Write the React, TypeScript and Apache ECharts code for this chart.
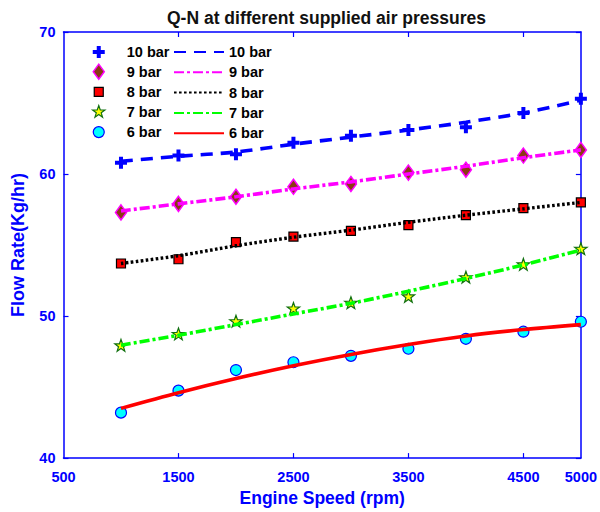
import React, { useEffect, useRef } from 'react';
import * as echarts from 'echarts';

const speeds = [1000, 1500, 2000, 2500, 3000, 3500, 4000, 4500, 5000];

const meas10 = [60.8, 61.3, 61.4, 62.2, 62.7, 63.1, 63.3, 64.3, 65.3];
const meas9 = [57.3, 57.9, 58.4, 59.1, 59.3, 60.1, 60.3, 61.3, 61.7];
const meas8 = [53.7, 54.0, 55.2, 55.6, 56.0, 56.4, 57.1, 57.6, 58.0];
const meas7 = [47.9, 48.7, 49.6, 50.5, 50.9, 51.35, 52.7, 53.6, 54.7];
const meas6 = [43.2, 44.75, 46.2, 46.75, 47.2, 47.7, 48.4, 48.9, 49.6];

const fit10 = [60.9, 61.25, 61.55, 62.1, 62.6, 63.1, 63.65, 64.3, 65.2];
const fit9 = [57.4, 57.9, 58.4, 58.95, 59.45, 60.0, 60.55, 61.15, 61.7];
const fit8 = [53.7, 54.25, 54.95, 55.55, 56.05, 56.6, 57.1, 57.55, 58.0];
const fit7 = [47.95, 48.65, 49.4, 50.15, 50.9, 51.75, 52.65, 53.6, 54.65];
const fit6 = [43.5, 44.6, 45.6, 46.5, 47.3, 48.0, 48.6, 49.05, 49.4];

const pressureLabels = ['10 bar', '9 bar', '8 bar', '7 bar', '6 bar'];
const xTickLabels = [500, 1500, 2500, 3500, 4500, 5000];
const xTickMarks = [1500, 2500, 3500, 4500];
const yTickValues = [40, 50, 60, 70];

const BLUE = '#0000FF';
const FONT = 'Liberation Sans, Arial, sans-serif';

// Symbols drawn in an 18x18 box (corner moves fix the box size)
const BOX = 'M0 0 M18 18 ';
const PLUS = 'path://' + BOX + 'M7 3 L11 3 L11 7 L15 7 L15 11 L11 11 L11 15 L7 15 L7 11 L3 11 L3 7 L7 7 Z';
const DIAMOND = 'path://' + BOX + 'M9 1.5 L14.5 9 L9 16.5 L3.5 9 Z';
const SQUARE = 'path://' + BOX + 'M4.5 4.5 L13.5 4.5 L13.5 13.5 L4.5 13.5 Z';
const STAR = 'path://' + BOX + 'M9 2.5 L10.53 6.9 L15.18 6.99 L11.47 9.8 L12.82 14.26 L9 11.6 L5.18 14.26 L6.53 9.8 L2.82 6.99 L7.47 6.9 Z';
const CIRCLE = 'path://' + BOX + 'M3.5 9 A5.5 5.5 0 1 0 14.5 9 A5.5 5.5 0 1 0 3.5 9 Z';

const measSets = [meas10, meas9, meas8, meas7, meas6];
const fitSets = [fit10, fit9, fit8, fit7, fit6];

const markerStyles = [
  { symbol: PLUS, color: BLUE, borderColor: BLUE, borderWidth: 0 },
  { symbol: DIAMOND, color: '#8B3A14', borderColor: '#FF00FF', borderWidth: 1.5 },
  { symbol: SQUARE, color: '#FF0000', borderColor: '#000000', borderWidth: 1.2 },
  { symbol: STAR, color: '#FFFF00', borderColor: '#107010', borderWidth: 1.2 },
  { symbol: CIRCLE, color: '#00FFFF', borderColor: BLUE, borderWidth: 1.2 },
];

const lineStyles = [
  { color: BLUE, type: [12, 8], width: 3.6 },
  { color: '#FF00FF', type: [10, 3, 3, 3], width: 3.6 },
  { color: '#000000', type: [2.6, 2.4], width: 3.4 },
  { color: '#00FF00', type: [10, 3, 3, 3], width: 3.6 },
  { color: '#FF0000', type: 'solid', width: 3.6 },
];

const keys = ['10', '9', '8', '7', '6'];

export default function App() {
  const ref = useRef<HTMLDivElement>(null);

  useEffect(() => {
    if (!ref.current) return;
    const chart = echarts.init(ref.current, undefined, { renderer: 'svg' });

    const scatterSeries = keys.map((k, i) => ({
      type: 'scatter',
      name: 'm' + k,
      data: speeds.map((s, j) => [s, measSets[i][j]]),
      symbol: markerStyles[i].symbol,
      symbolSize: 18,
      itemStyle: {
        color: markerStyles[i].color,
        borderColor: markerStyles[i].borderColor,
        borderWidth: markerStyles[i].borderWidth,
        opacity: 1,
      },
      z: 2,
    }));

    const lineSeries = keys.map((k, i) => ({
      type: 'line',
      name: 'l' + k,
      data: speeds.map((s, j) => [s, fitSets[i][j]]),
      symbol: 'none',
      smooth: 0.3,
      lineStyle: lineStyles[i],
      itemStyle: { color: lineStyles[i].color },
      z: 3,
    }));

    const legendText = {
      fontFamily: FONT,
      fontSize: 14.5,
      fontWeight: 'bold',
      color: '#000',
      lineHeight: 16,
    };

    const labelOf = (name: string) => pressureLabels[keys.indexOf(name.slice(1))];

    chart.setOption({
      animation: false,
      backgroundColor: '#fff',
      title: {
        text: 'Q-N at different supplied air pressures',
        left: 162,
        top: 4,
        textStyle: { fontFamily: FONT, fontSize: 17.5, fontWeight: 'bold', color: '#111' },
      },
      legend: [
        {
          orient: 'vertical',
          left: 89,
          top: 43,
          padding: 0,
          itemWidth: 18,
          itemHeight: 18,
          itemGap: 0.9,
          selectedMode: false,
          data: keys.map((k, i) => ({
            name: 'm' + k,
            itemStyle: {
              color: markerStyles[i].color,
              borderColor: markerStyles[i].borderColor,
              borderWidth: markerStyles[i].borderWidth,
            },
          })),
          formatter: labelOf,
          textStyle: { ...legendText, padding: [0, 0, 0, 14] },
        },
        {
          orient: 'vertical',
          left: 173,
          top: 44,
          padding: 0,
          itemWidth: 50,
          itemHeight: 18,
          itemGap: 4.3,
          selectedMode: false,
          itemStyle: { color: 'rgba(0,0,0,0)', borderWidth: 0, opacity: 0 },
          data: keys.map((k) => ({ name: 'l' + k, itemStyle: { color: 'rgba(0,0,0,0)', borderWidth: 0, opacity: 0 } })),
          formatter: labelOf,
          textStyle: legendText,
        },
      ],
      grid: { left: 63.5, right: 14.5, top: 32, bottom: 53.5, containLabel: false },
      xAxis: [
        {
          type: 'value',
          min: 500,
          max: 5000,
          position: 'bottom',
          name: 'Engine Speed (rpm)',
          nameLocation: 'middle',
          nameGap: 29,
          nameTextStyle: { fontFamily: FONT, fontSize: 17.5, fontWeight: 'bold', color: BLUE },
          axisLine: { show: true, lineStyle: { color: BLUE, width: 1.5 } },
          axisTick: { show: true, inside: true, length: 5, customValues: xTickMarks, lineStyle: { color: BLUE, width: 1.2 } },
          axisLabel: {
            customValues: xTickLabels,
            formatter: (v: number) => String(v),
            margin: 11,
            fontFamily: FONT,
            fontSize: 14.5,
            fontWeight: 'bold',
            color: BLUE,
          },
          splitLine: { show: false },
        },
        {
          type: 'value',
          min: 500,
          max: 5000,
          position: 'top',
          axisLine: { show: true, lineStyle: { color: BLUE, width: 1.5 } },
          axisTick: { show: true, inside: true, length: 5, customValues: xTickMarks, lineStyle: { color: BLUE, width: 1.2 } },
          axisLabel: { show: false },
          splitLine: { show: false },
        },
      ],
      yAxis: [
        {
          type: 'value',
          min: 40,
          max: 70,
          interval: 10,
          position: 'left',
          name: 'Flow Rate(Kg/hr)',
          nameLocation: 'middle',
          nameGap: 37,
          nameTextStyle: { fontFamily: FONT, fontSize: 18, fontWeight: 'bold', color: BLUE },
          axisLine: { show: true, lineStyle: { color: BLUE, width: 1.5 } },
          axisTick: { show: true, inside: true, length: 5, customValues: yTickValues, lineStyle: { color: BLUE, width: 1.2 } },
          axisLabel: {
            customValues: yTickValues,
            formatter: (v: number) => String(v),
            margin: 8,
            fontFamily: FONT,
            fontSize: 14.5,
            fontWeight: 'bold',
            color: BLUE,
          },
          splitLine: { show: false },
        },
        {
          type: 'value',
          min: 40,
          max: 70,
          interval: 10,
          position: 'right',
          axisLine: { show: true, lineStyle: { color: BLUE, width: 1.5 } },
          axisTick: { show: true, inside: true, length: 5, lineStyle: { color: BLUE, width: 1.2 } },
          axisLabel: { show: false },
          splitLine: { show: false },
        },
      ],
      series: [...scatterSeries, ...lineSeries],
    });

    return () => {
      chart.dispose();
    };
  }, []);

  return (
    <div
      ref={ref}
      style={{ position: 'fixed', left: 0, top: 0, width: 600, height: 512, background: '#fff' }}
    />
  );
}
